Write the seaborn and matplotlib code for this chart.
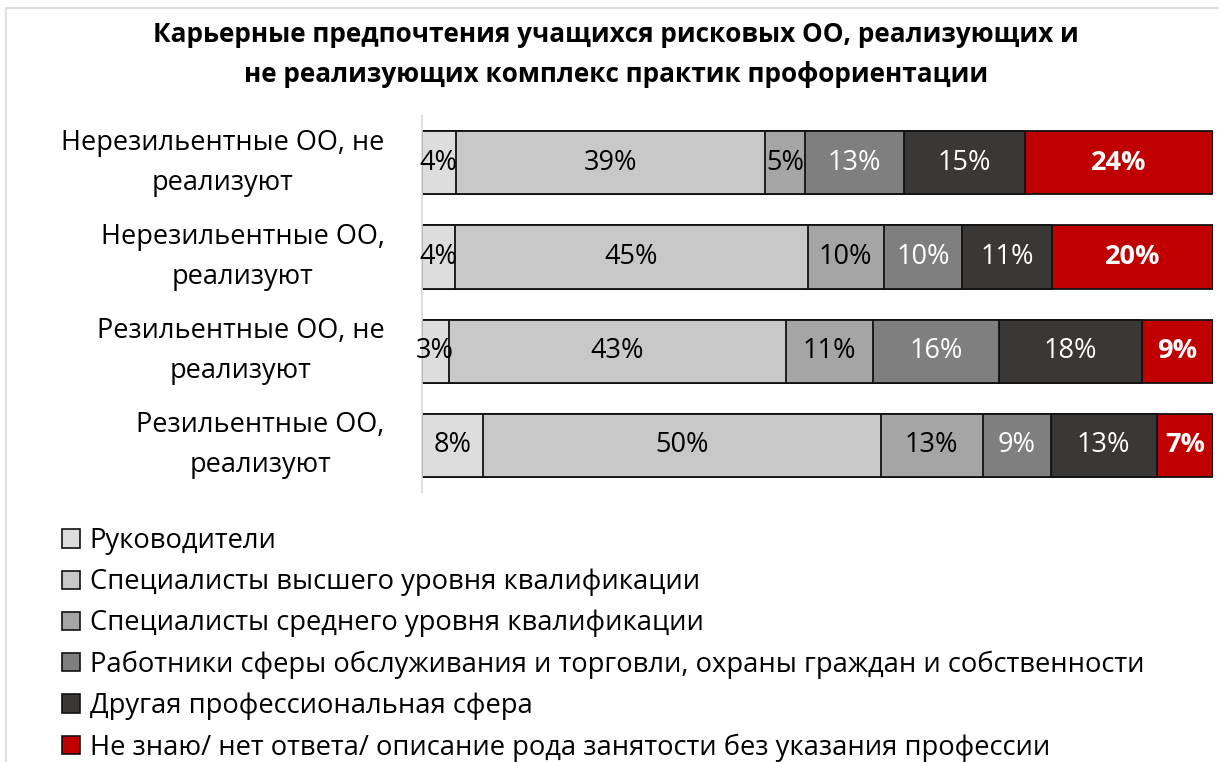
import matplotlib
matplotlib.use("Agg")
import matplotlib.pyplot as plt
from matplotlib.patches import Patch, Rectangle
import numpy as np
import pandas as pd
import seaborn as sns

# categories (top to bottom)
groups = [
    "Нерезильентные ОО, не\nреализуют",
    "Нерезильентные ОО,\nреализуют",
    "Резильентные ОО, не\nреализуют",
    "Резильентные ОО,\nреализуют",
]

series_names = [
    "Руководители",
    "Специалисты высшего уровня квалификации",
    "Специалисты среднего уровня квалификации",
    "Работники сферы обслуживания и торговли, охраны граждан и собственности",
    "Другая профессиональная сфера",
    "Не знаю/ нет ответа/ описание рода занятости без указания профессии",
]

# shares, %
managers = [4.3, 4.2, 3.4, 7.7]
spec_high = [39.1, 44.6, 42.6, 50.3]
spec_mid = [5.0, 9.6, 11.0, 12.9]
service = [12.6, 9.9, 16.0, 8.6]
other = [15.2, 11.4, 18.0, 13.4]
dont_know = [23.8, 20.3, 9.0, 7.1]

colors = ["#DDDDDD", "#C8C8C8", "#A5A5A5", "#7F7F7F", "#3A3836", "#C00000"]
text_colors = ["black", "black", "black", "white", "white", "white"]
text_weights = ["normal", "normal", "normal", "normal", "normal", "bold"]

sns.set_style("white")
plt.rcParams["font.family"] = ["Open Sans", "DejaVu Sans"]
plt.rcParams["text.color"] = "black"
plt.rcParams["ytick.color"] = "black"

values = np.array([managers, spec_high, spec_mid, service, other, dont_know])
cums = values.cumsum(axis=0)

df = pd.DataFrame({"group": groups})
for i, name in enumerate(series_names):
    df[name] = cums[i]

fig = plt.figure(figsize=(12.19, 7.62), dpi=100)

# light chart border (open on the right and bottom, like the source)
fig.patches.append(
    Rectangle((0.005, -0.02), 1.0, 1.009, transform=fig.transFigure,
              fill=False, edgecolor="#D9D9D9", linewidth=1.2)
)

ax = fig.add_axes([0.346, 0.354, 0.649, 0.494])

# stacked bars: draw cumulative totals from the last series to the first
for i in range(len(series_names) - 1, -1, -1):
    sns.barplot(
        data=df,
        x=series_names[i],
        y="group",
        orient="h",
        color=colors[i],
        edgecolor="#111111",
        linewidth=1.3,
        width=0.67,
        saturation=1,
        ax=ax,
    )

# value labels
for i in range(len(series_names)):
    for j in range(len(groups)):
        center = cums[i, j] - values[i, j] / 2
        ax.text(
            center,
            j,
            f"{values[i, j]:.0f}%",
            ha="center",
            va="center",
            fontsize=19.5,
            color=text_colors[i],
            fontweight=text_weights[i],
        )

ax.set_xlim(0, 100)
ax.set_xlabel("")
ax.set_ylabel("")
ax.set_xticks([])
for side in ["top", "right", "bottom"]:
    ax.spines[side].set_visible(False)
ax.spines["left"].set_color("#D9D9D9")
ax.spines["left"].set_linewidth(1.2)

# category labels drawn as text so the line spacing sticks
ax.tick_params(axis="y", length=0, labelleft=False)
for j, g in enumerate(groups):
    ax.text(
        -0.047,
        j,
        g,
        transform=ax.get_yaxis_transform(),
        ha="right",
        va="center",
        multialignment="center",
        fontsize=19.5,
        linespacing=1.6,
    )

fig.suptitle(
    "Карьерные предпочтения учащихся рисковых ОО, реализующих и\n"
    "не реализующих комплекс практик профориентации",
    fontsize=18.8,
    fontweight="bold",
    y=0.973,
    x=0.505,
    linespacing=1.62,
)

handles = [Patch(facecolor=c, edgecolor="#111111", linewidth=1.2) for c in colors]
fig.legend(
    handles,
    series_names,
    loc="upper left",
    bbox_to_anchor=(0.042, 0.3225),
    frameon=False,
    fontsize=19.7,
    handlelength=0.65,
    handleheight=0.65,
    handletextpad=0.35,
    labelspacing=0.48,
    borderaxespad=0,
)

fig.savefig("out.png", dpi=100)
